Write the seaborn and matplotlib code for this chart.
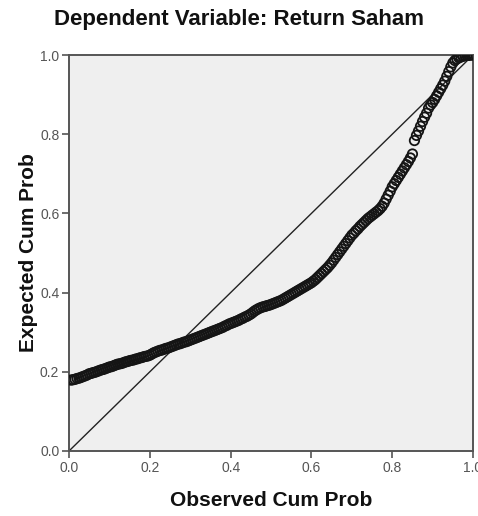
import matplotlib
matplotlib.use("Agg")
import matplotlib.pyplot as plt
import seaborn as sns
import pandas as pd

# Normal P-P plot of regression standardized residuals
observed_cum_prob = [
    0.005, 0.010, 0.015, 0.020, 0.025, 0.030, 0.035, 0.040, 0.045, 0.050,
    0.055, 0.060, 0.065, 0.070, 0.075, 0.080, 0.085, 0.090, 0.095, 0.100,
    0.105, 0.110, 0.115, 0.120, 0.125, 0.130, 0.135, 0.140, 0.145, 0.150,
    0.155, 0.160, 0.165, 0.170, 0.175, 0.180, 0.185, 0.190, 0.195, 0.200,
    0.205, 0.210, 0.215, 0.220, 0.225, 0.230, 0.235, 0.240, 0.245, 0.250,
    0.255, 0.260, 0.265, 0.270, 0.275, 0.280, 0.285, 0.290, 0.295, 0.300,
    0.305, 0.310, 0.315, 0.320, 0.325, 0.330, 0.335, 0.340, 0.345, 0.350,
    0.355, 0.360, 0.365, 0.370, 0.375, 0.380, 0.385, 0.390, 0.395, 0.400,
    0.405, 0.410, 0.415, 0.420, 0.425, 0.430, 0.435, 0.440, 0.445, 0.450,
    0.455, 0.460, 0.465, 0.470, 0.475, 0.480, 0.485, 0.490, 0.495, 0.500,
    0.505, 0.510, 0.515, 0.520, 0.525, 0.530, 0.535, 0.540, 0.545, 0.550,
    0.555, 0.560, 0.565, 0.570, 0.575, 0.580, 0.585, 0.590, 0.595, 0.600,
    0.605, 0.610, 0.615, 0.620, 0.625, 0.630, 0.635, 0.640, 0.645, 0.650,
    0.655, 0.660, 0.665, 0.670, 0.675, 0.680, 0.685, 0.690, 0.695, 0.700,
    0.705, 0.710, 0.715, 0.720, 0.725, 0.730, 0.735, 0.740, 0.745, 0.750,
    0.755, 0.760, 0.765, 0.770, 0.775, 0.780, 0.785, 0.790, 0.795, 0.800,
    0.805, 0.810, 0.815, 0.820, 0.825, 0.830, 0.835, 0.840, 0.845, 0.850,
    0.855, 0.860, 0.865, 0.870, 0.875, 0.880, 0.885, 0.890, 0.895, 0.900,
    0.905, 0.910, 0.915, 0.920, 0.925, 0.930, 0.935, 0.940, 0.945, 0.950,
    0.955, 0.960, 0.965, 0.970, 0.975, 0.980, 0.985, 0.990, 0.995, 1.000,
]
expected_cum_prob = [
    0.179, 0.180, 0.181, 0.183, 0.184, 0.186, 0.188, 0.190, 0.192, 0.195,
    0.196, 0.198, 0.199, 0.201, 0.203, 0.205, 0.206, 0.208, 0.210, 0.212,
    0.213, 0.215, 0.217, 0.219, 0.220, 0.221, 0.223, 0.225, 0.226, 0.228,
    0.229, 0.230, 0.232, 0.233, 0.235, 0.236, 0.238, 0.239, 0.240, 0.242,
    0.245, 0.248, 0.250, 0.252, 0.254, 0.255, 0.257, 0.259, 0.260, 0.262,
    0.264, 0.266, 0.268, 0.270, 0.271, 0.273, 0.275, 0.276, 0.278, 0.280,
    0.282, 0.284, 0.286, 0.288, 0.290, 0.292, 0.294, 0.296, 0.298, 0.300,
    0.302, 0.304, 0.306, 0.308, 0.310, 0.312, 0.315, 0.317, 0.320, 0.322,
    0.324, 0.326, 0.328, 0.330, 0.333, 0.335, 0.338, 0.340, 0.343, 0.346,
    0.350, 0.354, 0.357, 0.360, 0.362, 0.364, 0.365, 0.367, 0.368, 0.370,
    0.372, 0.374, 0.376, 0.378, 0.380, 0.383, 0.386, 0.389, 0.392, 0.395,
    0.398, 0.401, 0.404, 0.407, 0.410, 0.413, 0.416, 0.419, 0.422, 0.425,
    0.429, 0.433, 0.438, 0.443, 0.448, 0.453, 0.458, 0.463, 0.469, 0.475,
    0.482, 0.489, 0.496, 0.503, 0.510, 0.517, 0.524, 0.531, 0.538, 0.545,
    0.550, 0.556, 0.561, 0.567, 0.572, 0.577, 0.582, 0.587, 0.591, 0.595,
    0.599, 0.603, 0.607, 0.612, 0.618, 0.626, 0.636, 0.646, 0.656, 0.667,
    0.675, 0.683, 0.691, 0.699, 0.707, 0.715, 0.723, 0.731, 0.740, 0.750,
    0.784, 0.797, 0.808, 0.820, 0.832, 0.843, 0.853, 0.866, 0.874, 0.880,
    0.888, 0.897, 0.906, 0.915, 0.924, 0.934, 0.946, 0.958, 0.970, 0.980,
    0.986, 0.990, 0.993, 0.995, 0.997, 0.998, 0.999, 0.999, 1.000, 1.000,
]
tick_values = [0.0, 0.2, 0.4, 0.6, 0.8, 1.0]
tick_labels = ["0.0", "0.2", "0.4", "0.6", "0.8", "1.0"]

df = pd.DataFrame({"Observed": observed_cum_prob, "Expected": expected_cum_prob})

sns.set_style("ticks")
plt.rcParams["font.family"] = ["Liberation Sans", "DejaVu Sans"]

fig = plt.figure(figsize=(4.78, 5.16), dpi=100)
ax = fig.add_axes([0.1444, 0.126, 0.8452, 0.7674])
ax.set_facecolor("#efefef")

# reference diagonal
ax.plot([0, 1], [0, 1], color="#222222", lw=1.0, zorder=2)

sns.scatterplot(data=df, x="Observed", y="Expected", ax=ax, marker="o",
                s=46, facecolor="none", edgecolor="#151515", linewidth=1.3,
                zorder=3, clip_on=True)

ax.set_xlim(0, 1)
ax.set_ylim(0, 1)
ax.set_xticks(tick_values)
ax.set_xticklabels(tick_labels)
ax.set_yticks(tick_values)
ax.set_yticklabels(tick_labels)
ax.tick_params(axis="both", direction="out", length=5, width=1.2,
               color="#555555", labelcolor="#555555", labelsize=10, pad=2)

for side in ["left", "bottom", "top", "right"]:
    ax.spines[side].set_visible(True)
    ax.spines[side].set_color("#555555")
    ax.spines[side].set_linewidth(1.4)

ax.set_xlabel("Observed Cum Prob", fontsize=15, fontweight="bold", color="#111111", va="center")
ax.xaxis.set_label_coords(0.5, -0.124)
ax.set_ylabel("Expected Cum Prob", fontsize=15, fontweight="bold", color="#111111", va="center")
ax.yaxis.set_label_coords(-0.101, 0.5)
fig.text(0.5, 0.963, "Dependent Variable: Return Saham", ha="center", va="center",
         fontsize=16, fontweight="bold", color="#111111")

fig.savefig("out.png", dpi=100)
